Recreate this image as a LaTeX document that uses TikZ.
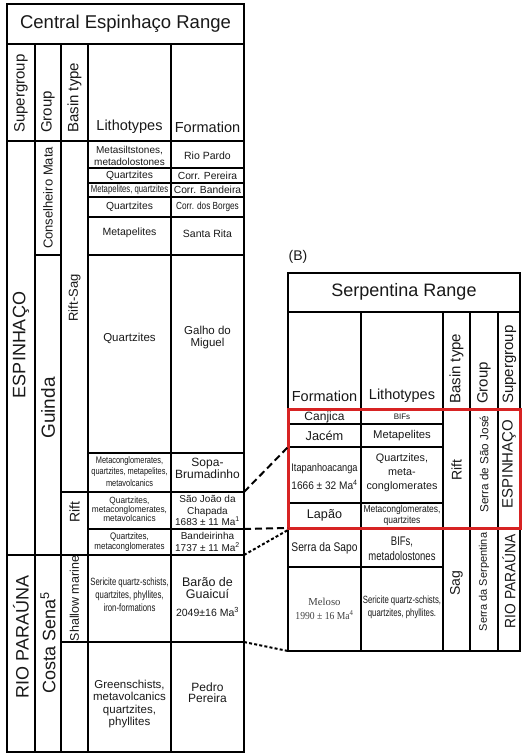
\documentclass[tikz,border=0pt]{standalone}
\usepackage{fontspec}
\setmainfont{Liberation Sans}
\newfontfamily\serifm{Liberation Serif}
\usepackage{graphicx}
\definecolor{txtc}{RGB}{25,25,25}
\definecolor{greytxt}{RGB}{65,65,65}
\definecolor{redbox}{RGB}{215,35,35}
\newcommand\fz[2]{\fontsize{#1}{#2}\selectfont}
\newcommand\cx[2]{\scalebox{#1}[1]{#2}}
\lineskiplimit=-100pt
\begin{document}
\begin{tikzpicture}[x=1pt,y=1pt,
  tl/.style={line width=1.8pt, line cap=rect},
  t/.style={inner sep=0pt, align=center, text=txtc},
  rt/.style={t, rotate=90},
  conA/.style={line width=2pt, dash pattern=on 7pt off 4pt},
  conB/.style={line width=2pt, dash pattern=on 3pt off 2.2pt},
  redframe/.style={draw=redbox, line width=3pt}
]
\fill[white] (0,0) rectangle (522,-754);
\useasboundingbox (0,0) rectangle (522,-754);

% ---------------- Central Espinhaço table ----------------
\draw[tl] (7,-4) rectangle (244,-752);
\draw[tl] (7,-44) -- (244,-44);
\draw[tl] (7,-141) -- (244,-141);
\foreach \xx in {35,61,88,171} \draw[tl] (\xx,-44) -- (\xx,-752);
\draw[tl] (35,-255) -- (61,-255);
\foreach \yy in {168,183,197,217,255,453,529} \draw[tl] (88,-\yy) -- (244,-\yy);
\draw[tl] (61,-492) -- (244,-492);
\draw[tl] (7,-555) -- (244,-555);
\draw[tl] (61,-642) -- (244,-642);

\node[t,font=\fz{18.5}{20}] (tA) at (125.5,-24) {Central Espinhaço Range};
\node[rt,anchor=west,font=\fz{15}{17}] (hA1) at (21,-133) {Supergroup};
\node[rt,anchor=west,font=\fz{15}{17}] (hA2) at (48,-133) {Group};
\node[rt,anchor=west,font=\fz{15}{17}] (hA3) at (74.5,-133) {Basin type};
\node[t,font=\fz{14.5}{16}] (hA4) at (129.5,-127) {Lithotypes};
\node[t,font=\fz{14.5}{16}] (hA5) at (207.5,-127) {Formation};

\node[rt,font=\fz{18}{20}] (sA1) at (21,-345) {ESPINHAÇO};
\node[rt,font=\fz{18}{20}] (sA2) at (21,-637) {RIO PARAÚNA};
\node[rt,font=\fz{13}{15}] (gA1) at (48,-198) {Conselheiro Mata};
\node[rt,font=\fz{19}{21}] (gA2) at (48,-408) {Guinda};
\node[rt,font=\fz{18}{20}] (gA3) at (48,-643) {Costa Sena\textsuperscript{5}};
\node[rt,font=\fz{13}{15}] (bA1) at (74.5,-298) {Rift-Sag};
\node[rt,font=\fz{14}{16}] (bA2) at (74.5,-512) {Rift};
\node[rt,font=\fz{12.5}{14}] (bA3) at (74.5,-598.5) {Shallow marine};

\node[t,font=\fz{10}{12}] (lA1) at (129.5,-156) {Metasiltstones,\\metadolostones};
\node[t,font=\fz{10.3}{12}] (lA2) at (129.5,-175.5) {Quartzites};
\node[t,font=\fz{10.3}{12}] (lA3) at (129.5,-190) {\cx{.75}{Metapelites, quartzites}};
\node[t,font=\fz{10.3}{12}] (lA4) at (129.5,-207) {Quartzites};
\node[t,font=\fz{10.5}{12}] (lA5) at (129.5,-233) {Metapelites};
\node[t,font=\fz{11.5}{12}] (lA6) at (129.5,-338) {Quartzites};
\node[t,font=\fz{9.5}{11.5}] (lA7) at (129.5,-471.5) {\cx{.78}{Metaconglomerates,}\\\cx{.78}{quartzites, metapelites,}\\\cx{.78}{metavolcanics}};
\node[t,font=\fz{9}{9.2}] (lA8) at (129.5,-509.5) {\cx{.92}{Quartzites,}\\\cx{.92}{metaconglomerates,}\\\cx{.92}{metavolcanics}};
\node[t,font=\fz{9.5}{9.5}] (lA9) at (129.5,-542) {\cx{.84}{Quartzites,}\\\cx{.84}{metaconglomerates}};
\node[t,font=\fz{10.5}{13}] (lA10) at (129.5,-595) {\cx{.74}{Sericite quartz-schists,}\\\cx{.74}{quartzites, phyllites,}\\\cx{.74}{iron-formations}};
\node[t,font=\fz{11.5}{12.2}] (lA11) at (129.5,-704) {Greenschists,\\metavolcanics\\quartzites,\\phyllites};

\node[t,font=\fz{10.5}{12}] (fA1) at (207.5,-156) {Rio Pardo};
\node[t,font=\fz{10.3}{12}] (fA2) at (207.5,-176) {Corr. Pereira};
\node[t,font=\fz{10.3}{12}] (fA3) at (207.5,-190) {Corr. Bandeira};
\node[t,font=\fz{10.3}{12}] (fA4) at (207.5,-207) {\cx{.8}{Corr. dos Borges}};
\node[t,font=\fz{10.5}{12}] (fA5) at (207.5,-234) {Santa Rita};
\node[t,font=\fz{11.5}{12}] (fA6) at (207.5,-338) {Galho do\\Miguel};
\node[t,font=\fz{12}{11.5}] (fA7) at (207.5,-468.5) {Sopa-\\Brumadinho};
\node[t,font=\fz{10}{11.5}] (fA8) at (207.5,-510.5) {São João da\\Chapada\\1683 ± 11 Ma\textsuperscript{1}};
\node[t,font=\fz{10}{11.5}] (fA9) at (207.5,-542) {Bandeirinha\\1737 ± 11 Ma\textsuperscript{2}};
\node[t,font=\fz{12.5}{12}] (fA10) at (207.5,-588) {Barão de\\Guaicuí};
\node[t,font=\fz{10.5}{12}] (fA11) at (207.5,-612) {2049±16 Ma\textsuperscript{3}};
\node[t,font=\fz{12}{11.5}] (fA12) at (207.5,-692.5) {Pedro\\Pereira};

% ---------------- Serpentina table ----------------
\draw[tl] (288,-273) rectangle (520,-651);
\draw[tl] (288,-312) -- (520,-312);
\draw[tl] (288,-409) -- (520,-409);
\foreach \xx in {361,443,470,498} \draw[tl] (\xx,-312) -- (\xx,-651);
\foreach \yy in {424,447,503,567} \draw[tl] (288,-\yy) -- (443,-\yy);
\draw[tl] (288,-528) -- (520,-528);

\node[t,font=\fz{14}{16}] (bLabel) at (298,-257) {(B)};
\node[t,font=\fz{18}{20}] (tB) at (404,-292) {Serpentina Range};
\node[t,font=\fz{14.5}{16}] (hB1) at (324.5,-396) {Formation};
\node[t,font=\fz{14.5}{16}] (hB2) at (402,-396) {Lithotypes};
\node[rt,anchor=west,font=\fz{15}{17}] (hB3) at (456.5,-404) {Basin type};
\node[rt,anchor=west,font=\fz{15}{17}] (hB4) at (484,-404) {Group};
\node[rt,anchor=west,font=\fz{15}{17}] (hB5) at (509.5,-404) {Supergroup};

\node[t,font=\fz{12}{14}] (fB1) at (324.5,-417.5) {Canjica};
\node[t,font=\fz{8}{9}] (lB1) at (402,-417) {BIFs};
\node[t,font=\fz{12.8}{14}] (fB2) at (324.5,-436) {Jacém};
\node[t,font=\fz{11.3}{13}] (lB2) at (402,-436) {Metapelites};
\node[t,font=\fz{11}{12}] (fB3) at (324.5,-469) {\cx{.84}{Itapanhoacanga}};
\node[t,font=\fz{11}{12}] (fB3b) at (324.5,-485) {\cx{.92}{1666 ± 32 Ma\textsuperscript{4}}};
\node[t,font=\fz{10.8}{14}] (lB3) at (402,-473) {Quartzites,\\meta-\\conglomerates};
\node[t,font=\fz{12.6}{14}] (fB4) at (324.5,-515.5) {Lapão};
\node[t,font=\fz{10}{11}] (lB4) at (402,-515.5) {\cx{.85}{Metaconglomerates,}\\\cx{.85}{quartzites}};
\node[t,font=\fz{12.5}{14}] (fB5) at (324.5,-548) {\cx{.82}{Serra da Sapo}};
\node[t,font=\fz{12.5}{14.5}] (lB5) at (402,-549) {\cx{.76}{BIFs,}\\\cx{.76}{metadolostones}};
\node[t,text=greytxt,font=\serifm\fz{10.7}{14}] (fB6) at (324.5,-609) {Meloso\\\cx{.9}{1990 ± 16 Ma\textsuperscript{4}}};
\node[t,font=\fz{10.5}{13}] (lB6) at (402,-607) {\cx{.74}{Sericite quartz-schists,}\\\cx{.74}{quartzites, phyllites.}};

\node[rt,font=\fz{14}{16}] (bB1) at (456.5,-470) {Rift};
\node[rt,font=\fz{14}{16}] (bB2) at (456.5,-583) {Sag};
\node[rt,font=\fz{11.7}{14}] (gB1) at (484,-464) {Serra de São José};
\node[rt,font=\fz{11}{13}] (gB2) at (484,-582) {Serra da Serpentina};
\node[rt,font=\fz{15}{17}] (sB1) at (509,-464) {ESPINHAÇO};
\node[rt,font=\fz{15}{17}] (sB2) at (509,-581) {\cx{.92}{RIO PARAÚNA}};

\draw[redframe] (288,-409) rectangle (520,-528);

% ---------------- connectors ----------------
\coordinate (sopaBot) at (244,-492);
\coordinate (itapTop) at (288,-447);
\coordinate (sjBot) at (244,-529);
\coordinate (lapBot) at (288,-528);
\coordinate (bandBot) at (244,-555);
\coordinate (sapoTop) at (288,-530);
\coordinate (baraoBot) at (244,-642);
\coordinate (melBot) at (288,-651);
\draw[conA] (sopaBot) -- (itapTop);
\draw[conA] (sjBot) -- (lapBot);
\draw[conB] (bandBot) -- (sapoTop);
\draw[conB] (baraoBot) -- (melBot);
\end{tikzpicture}
\end{document}
